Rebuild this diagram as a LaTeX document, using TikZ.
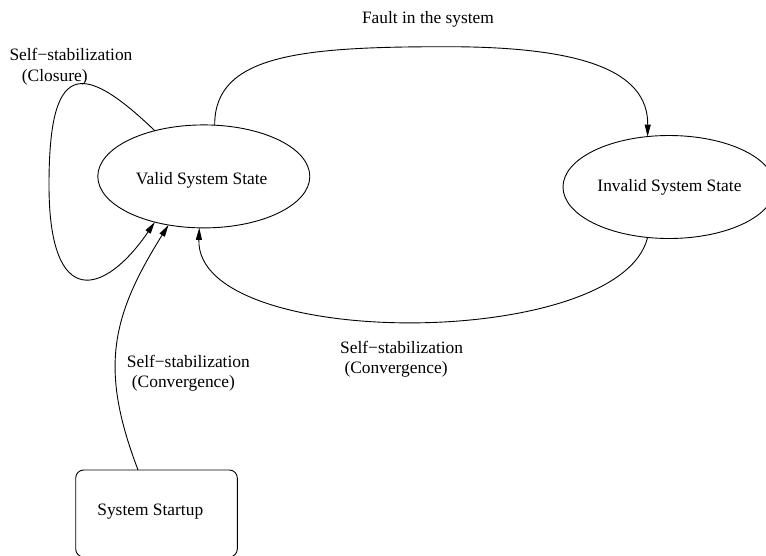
\documentclass[tikz,border=0pt]{standalone}
\usepackage{fontspec}
\setmainfont{Liberation Serif}
\usetikzlibrary{arrows.meta,shapes.geometric}
\begin{document}
\begin{tikzpicture}[x=1pt,y=-1pt,
  every node/.style={font=\fontsize{17.4}{20}\selectfont},
  state/.style={draw, ellipse, minimum width=212pt, minimum height=103pt,
    inner sep=0pt, outer sep=0pt, line width=0.9pt},
  startbox/.style={draw, rectangle, rounded corners=8pt, minimum width=161.6pt,
    minimum height=87pt, inner sep=0pt, outer sep=0pt, line width=0.9pt},
  txt/.style={inner sep=0pt, anchor=base},
  lbl/.style={inner sep=0pt, anchor=base west},
  trans/.style={line width=0.9pt, -{Triangle[length=12pt,width=6pt]}},
]
\clip (0,0) rectangle (766,555);

% states
\node[state] (valid) at (203.8,176.4) {};
\node[state] (invalid) at (669,187) {};
\node[startbox] (startup) at (156.5,513.5) {};

\node[txt] (validtxt) at (201.7,184.3) {Valid System State};
\node[txt] (invalidtxt) at (669.5,191.7) {Invalid System State};
\node[txt] (startuptxt) at (150.3,515) {System Startup};

% transitions
\draw[trans] (valid.78.5) .. controls (214.3,55) and (300,46.7) .. (446.7,46.7)
  .. controls (580,46.7) and (648.3,70) .. (invalid.113.2);
\draw[trans] (invalid.247.1) .. controls (620,351) and (195,351) .. (valid.265);
\draw[trans] (valid.137.5) .. controls (80,59) and (49,63) .. (49,185)
  .. controls (49,312) and (105,295) .. (valid.223.5);
\draw[trans] (startup.113.4) .. controls (100,370) and (110,318) .. (valid.234.3);

% transition labels
\node[txt] (faulttxt) at (428,23.3) {Fault in the system};
\node[lbl] (closure1) at (9.3,60.7) {Self−stabilization};
\node[lbl] (closure2) at (21.7,81) {(Closure)};
\node[lbl] (convA1) at (126.7,367.3) {Self−stabilization};
\node[lbl] (convA2) at (131.7,387.6) {(Convergence)};
\node[lbl] (convB1) at (340,353.3) {Self−stabilization};
\node[lbl] (convB2) at (344.3,373.6) {(Convergence)};
\end{tikzpicture}
\end{document}
